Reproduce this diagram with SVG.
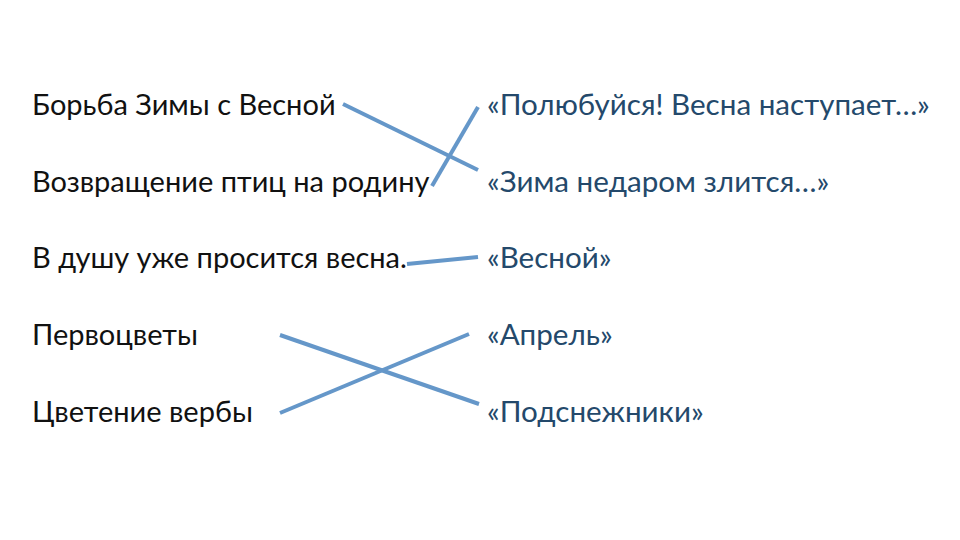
<svg xmlns="http://www.w3.org/2000/svg" width="960" height="540" viewBox="0 0 960 540">
<style>
.l{font-family:Lato,"Open Sans","Liberation Sans",sans-serif;font-size:29px;fill:#111111}
.r{font-family:Lato,"Open Sans","Liberation Sans",sans-serif;font-size:29.6px;fill:#24496b}
.c{stroke:#6597c9;stroke-width:4;stroke-linecap:butt;fill:none}
</style>
<rect width="960" height="540" fill="#ffffff"/>
<g id="left1"><text class="l" x="32" y="115">Борьба Зимы с Весной</text></g>
<g id="left2"><text class="l" x="32" y="192">Возвращение птиц на родину</text></g>
<g id="left3"><text class="l" x="32" y="268">В душу уже просится весна.</text></g>
<g id="left4"><text class="l" x="32" y="345">Первоцветы</text></g>
<g id="left5"><text class="l" x="32" y="422">Цветение вербы</text></g>
<g id="right1"><text class="r" x="487" y="115">«Полюбуйся! Весна наступает…»</text></g>
<g id="right2"><text class="r" x="487" y="192">«Зима недаром злится…»</text></g>
<g id="right3"><text class="r" x="487" y="268">«Весной»</text></g>
<g id="right4"><text class="r" x="487" y="345">«Апрель»</text></g>
<g id="right5"><text class="r" x="487" y="422">«Подснежники»</text></g>
<g id="connectors">
<line class="c" x1="343" y1="104" x2="478" y2="170"/>
<line class="c" x1="432" y1="186" x2="478" y2="107"/>
<line class="c" x1="407" y1="264" x2="478" y2="257"/>
<line class="c" x1="280" y1="335" x2="479" y2="404"/>
<line class="c" x1="280" y1="413" x2="469" y2="334"/>
</g>
</svg>
